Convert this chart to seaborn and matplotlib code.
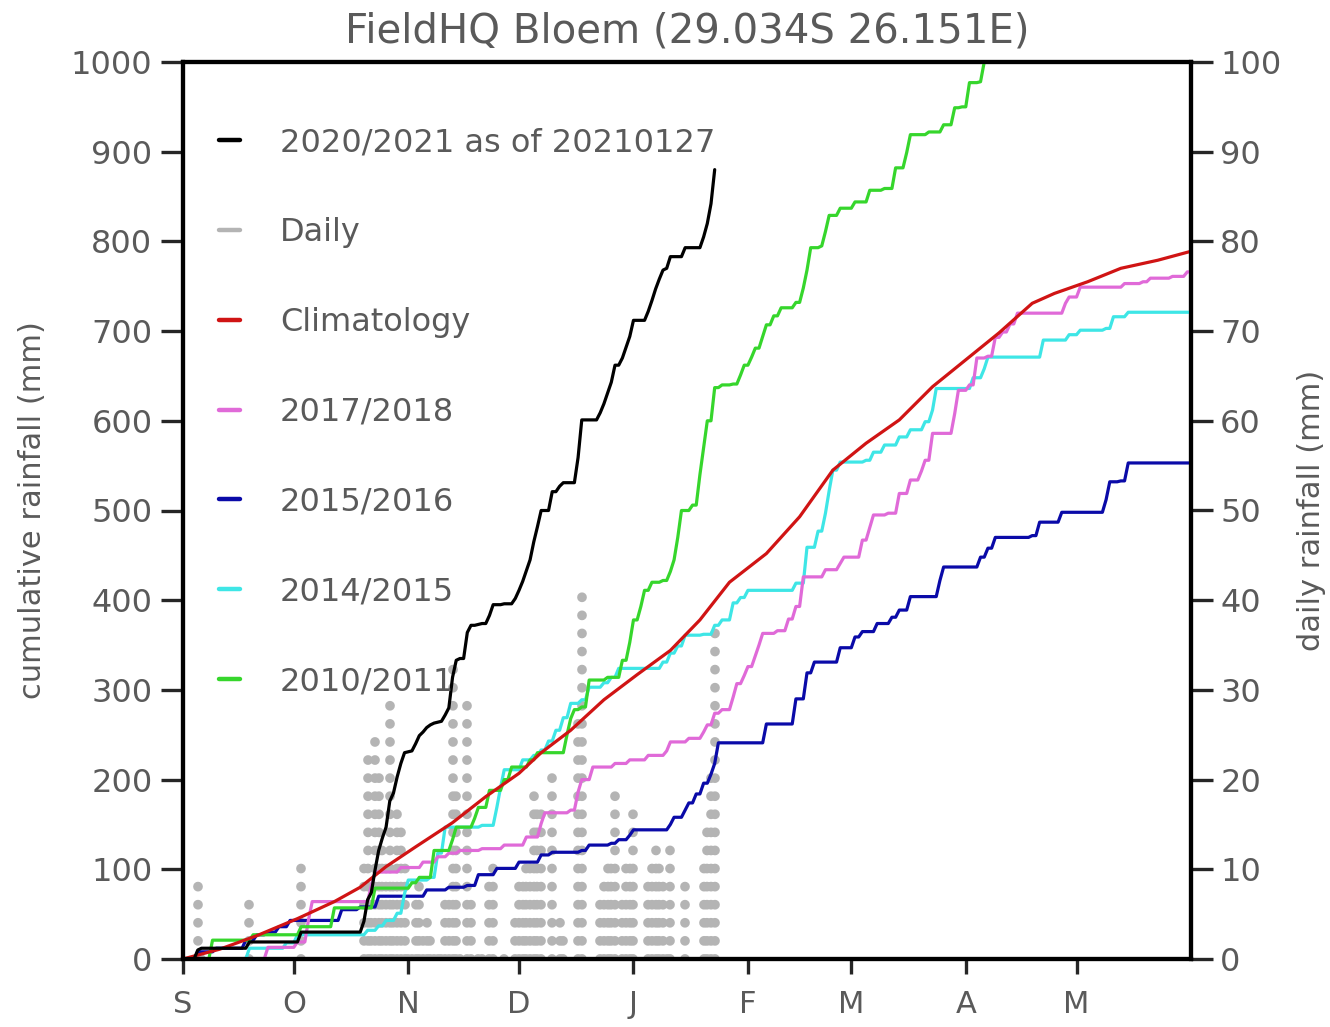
import numpy as np
import pandas as pd
import matplotlib
matplotlib.use("Agg")
import matplotlib.pyplot as plt
import seaborn as sns
from matplotlib.lines import Line2D

# ---------------- data (day 0 = 1 September, day 273 = 31 May) ----------------
month_ticks = [0, 30, 61, 91, 122, 153, 181, 212, 242]
month_labels = ["S", "O", "N", "D", "J", "F", "M", "A", "M"]
season_end = 273

# 2020/2021 daily rainfall (mm), as of 20210127
rain2021_days = [4, 5, 18, 32, 49, 50, 51, 52, 53, 54, 55, 56, 57, 58, 59, 60, 61, 62,
                 63, 64, 65, 66, 67, 68, 69, 70, 71, 72, 73, 74, 75, 77, 78, 80, 81, 83,
                 84, 87, 90, 91, 92, 93, 94, 95, 96, 97, 100, 102, 103, 107, 108, 113,
                 114, 115, 116, 117, 119, 120, 121, 122, 126, 127, 128, 129, 130, 131,
                 132, 136, 141, 142, 143, 144]
rain2021_mm = [10, 2, 7, 11, 12, 24, 8, 25, 22, 14, 12, 29, 9, 18, 15, 12, 1, 1,
               8, 9, 4, 5, 3, 2, 1, 1, 7, 8, 34, 19, 2, 29, 8, 1, 1, 9,
               12, 1, 6, 9, 10, 12, 12, 20, 17, 18, 21, 6, 4, 28, 42, 8,
               10, 12, 12, 19, 8, 12, 12, 18, 10, 12, 13, 11, 10, 2,
               13, 10, 12, 15, 22, 38]
last_day_2021 = 144

# 2017/2018 rain events
rain2018_days = [23, 31, 34, 35, 51, 52, 59, 65, 69, 72, 75, 81, 87, 93, 97, 98, 105, 107,
                 108, 111, 117, 121, 126, 131, 132, 137, 141, 142, 144, 146, 149, 150, 152,
                 153, 155, 156, 157, 161, 164, 166, 168, 174, 178, 179, 184, 186, 187, 191,
                 194, 197, 200, 201, 203, 209, 210, 213, 215, 218, 220, 222, 224, 226, 239,
                 240, 243, 255, 260, 262, 268, 272]
rain2018_mm = [13, 6, 25, 20, 18, 15, 5, 6, 6, 4, 3, 2, 4, 9, 15, 12, 3, 20,
               14, 14, 4, 4, 5, 5, 10, 4, 7, 8, 13, 4, 14, 15, 9,
               10, 12, 12, 13, 3, 13, 14, 33, 8, 7, 7, 19, 14, 14, 2,
               22, 15, 10, 12, 30, 22, 26, 6, 30, 2, 21, 6, 9, 12, 11,
               7, 11, 4, 2, 4, 2, 5]

# 2015/2016 rain events
rain2016_days = [4, 9, 17, 20, 23, 26, 29, 43, 48, 53, 66, 72, 77, 80, 85, 91, 97, 100,
                 108, 110, 116, 118, 121, 122, 132, 133, 136, 137, 139, 141, 143, 144,
                 145, 158, 166, 169, 171, 178, 182, 184, 188, 192, 194, 197, 205, 206,
                 216, 218, 220, 230, 232, 238, 250, 251, 254, 256]
rain2016_mm = [8, 4, 9, 6, 3, 6, 7, 12, 3, 12, 7, 3, 2, 12, 7, 7, 8, 3,
               2, 6, 2, 4, 5, 6, 6, 8, 8, 8, 10, 12, 10, 12,
               23, 21, 28, 29, 12, 16, 12, 6, 9, 7, 8, 15, 18, 15,
               11, 10, 12, 2, 15, 11, 14, 20, 1, 20]

# 2014/2015 rain events
rain2015_days = [18, 28, 31, 50, 53, 55, 58, 60, 61, 67, 69, 71, 81, 85, 86, 87, 92, 95,
                 97, 99, 101, 103, 105, 108, 110, 114, 116, 118, 130, 132, 134, 136, 141,
                 144, 146, 149, 151, 153, 166, 169, 172, 174, 175, 176, 178, 185, 187,
                 190, 194, 197, 201, 203, 204, 214, 217, 218, 233, 240, 243, 250, 252, 256]
rain2015_mm = [12, 6, 9, 5, 5, 6, 8, 22, 15, 3, 27, 29, 2, 20, 22, 20, 11, 5,
               6, 10, 12, 14, 16, 4, 14, 5, 6, 10, 7, 10, 8, 12, 1,
               10, 6, 19, 6, 8, 8, 40, 18, 20, 25, 23, 9, 2, 9,
               8, 9, 8, 9, 13, 24, 12, 10, 13, 19, 6, 5, 2, 13, 5]

# 2010/2011 rain events
rain2011_days = [8, 19, 32, 41, 52, 62, 64, 68, 73, 74, 79, 80, 83, 87, 89, 94, 96, 104,
                 105, 106, 108, 110, 115, 119, 121, 122, 124, 125, 127, 130, 132, 133,
                 134, 135, 138, 140, 141, 142, 144, 146, 149, 151, 152, 154, 155, 157,
                 158, 160, 162, 166, 168, 169, 170, 173, 174, 175, 178, 182, 186, 190,
                 193, 196, 197, 202, 206, 209, 211, 213, 216, 217, 218, 222, 228, 240]
rain2011_mm = [21, 6, 9, 21, 22, 6, 6, 30, 12, 14, 10, 12, 19, 12, 14, 8, 8, 20,
               18, 10, 3, 30, 3, 19, 20, 25, 15, 18, 9, 2, 10, 13,
               25, 30, 6, 34, 30, 30, 37, 3, 1, 10, 11, 9, 10, 13,
               13, 10, 9, 6, 16, 20, 25, 2, 16, 18, 8, 7, 13, 2,
               23, 17, 20, 3, 8, 19, 1, 27, 1, 22, 15, 20, 30, 25]

# Climatology (cumulative mm)
clim_days = [0, 10, 20, 31, 41, 48, 55, 63, 73, 82, 91, 97, 105, 114, 123, 132, 140,
             148, 158, 167, 176, 185, 194, 203, 212, 221, 230, 236, 245, 254, 264, 273]
clim_mm = [0, 11, 26, 45, 64, 80, 103, 125, 152, 181, 207, 230, 255, 289, 317, 344, 378,
           420, 452, 493, 545, 575, 601, 638, 668, 698, 731, 742, 755, 770, 779, 789]

labels = ["2020/2021 as of 20210127", "Daily", "Climatology", "2017/2018",
          "2015/2016", "2014/2015", "2010/2011"]
colors = {"2020/2021 as of 20210127": "#000000", "Daily": "#b4b4b4",
          "Climatology": "#d01414", "2017/2018": "#e06ad8", "2015/2016": "#0a0aa8",
          "2014/2015": "#3ee6e6", "2010/2011": "#36d62c"}


def cumulative(days, mm, last_day):
    daily = np.zeros(last_day + 1)
    np.add.at(daily, np.asarray(days), np.asarray(mm, dtype=float))
    return np.arange(last_day + 1), np.cumsum(daily)


frames = []
for name, d, m, last in [("2015/2016", rain2016_days, rain2016_mm, season_end),
                         ("2014/2015", rain2015_days, rain2015_mm, season_end),
                         ("2017/2018", rain2018_days, rain2018_mm, season_end),
                         ("2010/2011", rain2011_days, rain2011_mm, season_end),
                         ("2020/2021 as of 20210127", rain2021_days, rain2021_mm, last_day_2021)]:
    x, c = cumulative(d, m, last)
    frames.append(pd.DataFrame({"day": x, "cum": c, "series": name}))
frames.append(pd.DataFrame({"day": clim_days, "cum": clim_mm, "series": "Climatology"}))
df = pd.concat(frames, ignore_index=True)
hue_order = ["2015/2016", "2014/2015", "2017/2018", "2010/2011", "Climatology",
             "2020/2021 as of 20210127"]

# ---------------- plotting ----------------
sns.set_theme(style="white")
plt.rcParams["font.family"] = ["DejaVu Sans"]
txt = "#5a5a5a"

fig = plt.figure(figsize=(13.3, 10.27), dpi=100)
ax = fig.add_axes([183 / 1330, 1 - 959 / 1027, 1008 / 1330, 897 / 1027])
ax2 = ax.twinx()

# daily rainfall as dotted columns (right axis)
vl = ax2.vlines(rain2021_days, 0, rain2021_mm, colors=colors["Daily"], linewidth=7.0,
                linestyles=[(0, (0.01, 1.85))])
vl.set_capstyle("round")
ax2.set_ylim(0, 100)
ax2.set_yticks(np.arange(0, 101, 10))

sns.lineplot(data=df, x="day", y="cum", hue="series", hue_order=hue_order,
             palette=colors, estimator=None, linewidth=2.3, legend=False, ax=ax)
ax.set_zorder(ax2.get_zorder() + 1)
ax.patch.set_visible(False)

ax.set_xlim(0, season_end)
ax.set_ylim(0, 1000)
ax.set_yticks(np.arange(0, 1001, 100))
ax.set_xticks(month_ticks)
ax.set_xticklabels(month_labels)
ax.set_xlabel("")
ax.set_ylabel("cumulative rainfall (mm)", fontsize=22, color=txt)
ax.yaxis.set_label_coords(-0.135, 0.5)
ax2.set_ylabel("daily rainfall (mm)", fontsize=22, color=txt, rotation=90)
ax2.yaxis.set_label_coords(1.105, 0.5)

for a in (ax, ax2):
    for s in a.spines.values():
        s.set_linewidth(3)
        s.set_color("black")
ax.tick_params(axis="y", direction="out", length=16, width=2.4, pad=6,
               labelsize=23, labelcolor=txt, left=True)
ax.tick_params(axis="x", direction="out", length=11, width=2.4, pad=11,
               labelsize=22, labelcolor=txt, bottom=True)
ax2.tick_params(axis="y", direction="out", length=16, width=2.4, pad=5,
                labelsize=23, labelcolor=txt, right=True)
ax.grid(False)
ax2.grid(False)

ax.set_title("FieldHQ Bloem (29.034S 26.151E)", fontsize=29, color=txt, pad=14)

handles = [Line2D([], [], color=colors[l], linewidth=3.2) for l in labels]
leg = ax.legend(handles, labels, loc="upper left", bbox_to_anchor=(0.036, 0.927),
                frameon=False, fontsize=23, handlelength=0.65, handletextpad=1.25,
                labelspacing=1.84, borderpad=0, borderaxespad=0)
for t in leg.get_texts():
    t.set_color(txt)

fig.savefig("out.png", dpi=100)
